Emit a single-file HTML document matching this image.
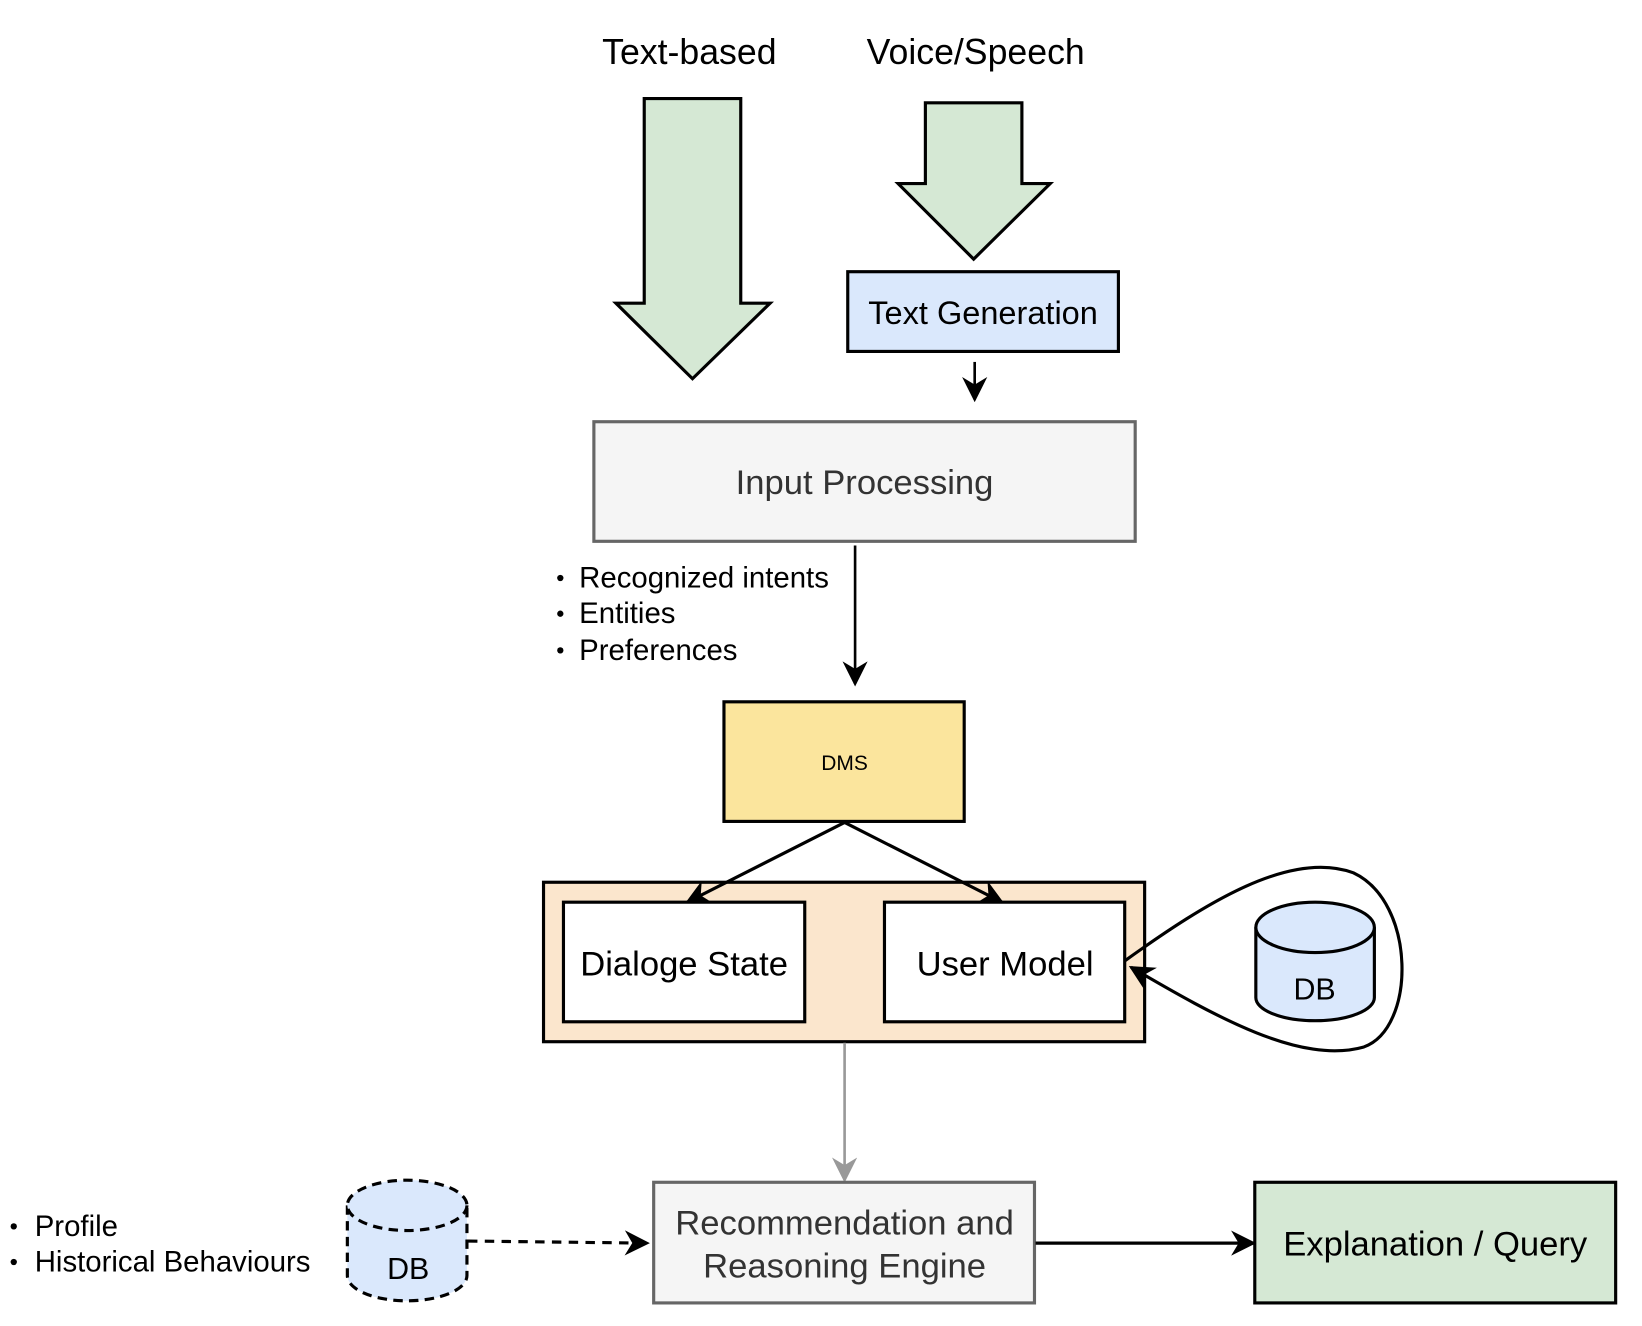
<!DOCTYPE html>
<html><head><meta charset="utf-8"><style>html,body{margin:0;padding:0;background:#fff}svg{display:block}</style></head>
<body>
<svg width="1642" height="1326" viewBox="0 0 1565 1264" xmlns="http://www.w3.org/2000/svg" font-family="'Liberation Sans', Arial, sans-serif">
<defs>
<marker id="ab" viewBox="0 0 10 10" refX="9" refY="5" markerWidth="24" markerHeight="24" markerUnits="userSpaceOnUse" orient="auto"><path d="M0,0 L10,5 L0,10 L3,5 z" fill="#000"/></marker>
<marker id="ag" viewBox="0 0 10 10" refX="9" refY="5" markerWidth="24" markerHeight="24" markerUnits="userSpaceOnUse" orient="auto"><path d="M0,0 L10,5 L0,10 L3,5 z" fill="#999"/></marker>
</defs>
<text x="657" y="61" font-size="34" text-anchor="middle">Text-based</text>
<text x="930" y="61" font-size="34" text-anchor="middle">Voice/Speech</text>
<path d="M614,94 H706 V289 H734 L660,361 L587,289 H614 Z" fill="#d5e8d4" stroke="#000" stroke-width="3"/>
<path d="M882,98 H974 V175 H1001 L928,247 L856,175 H882 Z" fill="#d5e8d4" stroke="#000" stroke-width="3"/>
<rect x="808" y="259" width="258" height="76" fill="#dae8fc" stroke="#000" stroke-width="3"/>
<text x="937" y="309" font-size="31" text-anchor="middle">Text Generation</text>
<line x1="929" y1="345" x2="929" y2="381" stroke="#000" stroke-width="2.5" marker-end="url(#ab)"/>
<rect x="566" y="402" width="516" height="114" fill="#f5f5f5" stroke="#666" stroke-width="3"/>
<text x="824" y="471" font-size="33" text-anchor="middle" fill="#333">Input Processing</text>
<g font-size="28"><circle cx="534" cy="551" r="3"/><text x="552" y="560">Recognized intents</text>
<circle cx="534" cy="585" r="3"/><text x="552" y="594">Entities</text>
<circle cx="534" cy="620" r="3"/><text x="552" y="629">Preferences</text></g>
<line x1="815" y1="520" x2="815" y2="652" stroke="#000" stroke-width="2.5" marker-end="url(#ab)"/>
<rect x="690" y="669" width="229" height="114" fill="#fbe59d" stroke="#000" stroke-width="3"/>
<text x="805" y="734" font-size="20" text-anchor="middle">DMS</text>
<rect x="518" y="841" width="573" height="152" fill="#fbe6cd" stroke="#000" stroke-width="3"/>
<rect x="537" y="860" width="230" height="114" fill="#fff" stroke="#000" stroke-width="3"/>
<text x="652" y="930" font-size="33" text-anchor="middle">Dialoge State</text>
<rect x="843" y="860" width="229" height="114" fill="#fff" stroke="#000" stroke-width="3"/>
<text x="958" y="930" font-size="33" text-anchor="middle">User Model</text>
<line x1="805" y1="784" x2="655" y2="860" stroke="#000" stroke-width="3" marker-end="url(#ab)"/>
<line x1="805" y1="784" x2="955" y2="860" stroke="#000" stroke-width="3" marker-end="url(#ab)"/>
<path d="M1072,916 C1150,860 1230,810 1290,832 C1350,860 1350,980 1300,998 C1240,1015 1160,970 1078,922" fill="none" stroke="#000" stroke-width="3" marker-end="url(#ab)"/>
<path d="M1197,884 V951 A56.5,22 0 0 0 1310,951 V884" fill="#dae8fc" stroke="#000" stroke-width="3"/>
<ellipse cx="1253.5" cy="884" rx="56.5" ry="24" fill="#dae8fc" stroke="#000" stroke-width="3"/>
<text x="1253" y="953" font-size="29" text-anchor="middle">DB</text>
<line x1="805" y1="994" x2="805" y2="1125" stroke="#999" stroke-width="2.5" marker-end="url(#ag)"/>
<rect x="623" y="1127" width="363" height="115" fill="#f5f5f5" stroke="#666" stroke-width="3"/>
<text x="805" y="1177" font-size="33" text-anchor="middle" fill="#333">Recommendation and</text>
<text x="805" y="1218" font-size="33" text-anchor="middle" fill="#333">Reasoning Engine</text>
<rect x="1196" y="1127" width="344" height="115" fill="#d5e8d4" stroke="#000" stroke-width="3"/>
<text x="1368" y="1197" font-size="33" text-anchor="middle">Explanation / Query</text>
<line x1="987" y1="1185" x2="1195" y2="1185" stroke="#000" stroke-width="3" marker-end="url(#ab)"/>
<path d="M331,1149 V1216 A57,24 0 0 0 445,1216 V1149" fill="#dae8fc" stroke="#000" stroke-width="3" stroke-dasharray="9,6"/>
<ellipse cx="388" cy="1149" rx="57" ry="24" fill="#dae8fc" stroke="#000" stroke-width="3" stroke-dasharray="9,6"/>
<text x="389" y="1219" font-size="29" text-anchor="middle">DB</text>
<line x1="446" y1="1183" x2="617" y2="1185" stroke="#000" stroke-width="3" stroke-dasharray="9,7" marker-end="url(#ab)"/>
<g font-size="28"><circle cx="13" cy="1169" r="3"/><text x="33" y="1178">Profile</text>
<circle cx="13" cy="1203" r="3"/><text x="33" y="1212">Historical Behaviours</text></g>
</svg>
</body></html>
